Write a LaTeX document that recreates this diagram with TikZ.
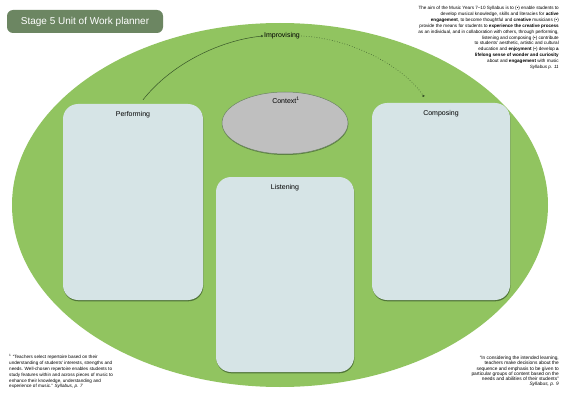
\documentclass[tikz,border=0pt]{standalone}
\usepackage{fontspec}
\setmainfont{Liberation Sans}
\usetikzlibrary{arrows.meta, shapes.geometric, shadows}

\definecolor{leaf}{RGB}{145,196,96}
\definecolor{moss}{RGB}{108,134,98}
\definecolor{paper}{RGB}{214,228,230}
\definecolor{stone}{RGB}{191,191,191}
\definecolor{vine}{RGB}{55,85,40}

\begin{document}
\begin{tikzpicture}[x=1pt, y=-1pt, >=latex,
    box/.style={fill=paper, rounded corners=15pt,
        drop shadow={shadow xshift=0.4pt, shadow yshift=-1.3pt, fill=vine, opacity=0.7}},
    boxlabel/.style={anchor=north, yshift=-4pt, font=\fontsize{7}{8}\selectfont},
    note/.style={font=\fontsize{4.6}{5.9}\selectfont, inner sep=0pt}]

% ==== CANVAS ====
\useasboundingbox[fill=white] (0,0) rectangle (571,404);

% ==== TITLE ====
\node[fill=moss, rounded corners=6pt, minimum width=156pt, minimum height=23pt,
      text=white, font=\fontsize{10}{12}\selectfont] (title) at (85,21.5) {Stage 5 Unit of Work planner};

% ==== BIG ELLIPSE ====
\fill[leaf] (280,205) ellipse [x radius=268, y radius=182];

% ==== BOXES ====
\node[box, minimum width=140pt, minimum height=196pt,
      label={[boxlabel]north:Performing}] (perf) at (133,202) {};
\node[box, minimum width=138pt, minimum height=197pt,
      label={[boxlabel]north:Composing}] (comp) at (441,201.5) {};
\node[box, minimum width=138pt, minimum height=195pt,
      label={[boxlabel]north:Listening}] (listen) at (285,274.5) {};

% ==== CONTEXT ====
\node[ellipse, draw=moss, line width=0.5pt, fill=stone, minimum width=126pt, minimum height=62pt,
      drop shadow={shadow xshift=0.3pt, shadow yshift=-1pt, fill=vine, opacity=0.6}] (ctx) at (285,123) {};
\node[font=\fontsize{7}{8}\selectfont] (ctxlabel) at (286,100) {Context\textsuperscript{1}};

% ==== IMPROVISING ====
\node[font=\fontsize{7}{8}\selectfont, inner sep=1pt] (impr) at (282,36) {Improvising};

\draw[vine, line width=0.5pt, -{Circle[length=2.2pt]}]
    ([xshift=10pt,yshift=4pt]perf.north) .. controls +(30,-38) and +(-40,4) .. (impr.west);
\draw[vine, line width=0.6pt, dotted, -{Circle[length=2.2pt]}]
    (impr.east) .. controls +(50,2) and +(-20,-30) .. ([xshift=-17pt,yshift=6pt]comp.north);

% ==== NOTES ====
\node[note, align=right, anchor=north east] (aim) at (559,6) {%
The aim of the Music Years 7--10 Syllabus is to (\textbullet) enable students to\\
develop musical knowledge, skills and literacies for \textbf{active}\\
\textbf{engagement}, to become thoughtful and \textbf{creative} musicians (\textbullet)\\
provide the means for students to \textbf{experience the creative process}\\
as an individual, and in collaboration with others, through performing,\\
listening and composing (\textbullet) contribute\\
to students' aesthetic, artistic and cultural\\
education and \textbf{enjoyment} (\textbullet) develop \textbf{a}\\
\textbf{lifelong sense of wonder and curiosity}\\
about and \textbf{engagement} with music\\
\textit{Syllabus p. 11}};

\node[note, align=left, anchor=north west] (repertoire) at (9,354) {%
\textsuperscript{1} ``Teachers select repertoire based on their\\
understanding of students' interests, strengths and\\
needs. Well-chosen repertoire enables students to\\
study features within and across pieces of music to\\
enhance their knowledge, understanding and\\
experience of music.'' \textit{Syllabus, p. 7}};

\node[note, font=\fontsize{4.8}{5.2}\selectfont, align=right, anchor=north east] (learning) at (559,356) {%
``In considering the intended learning,\\
teachers make decisions about the\\
sequence and emphasis to be given to\\
particular groups of content based on the\\
needs and abilities of their students''\\
\textit{Syllabus, p. 9}};

\end{tikzpicture}
\end{document}
